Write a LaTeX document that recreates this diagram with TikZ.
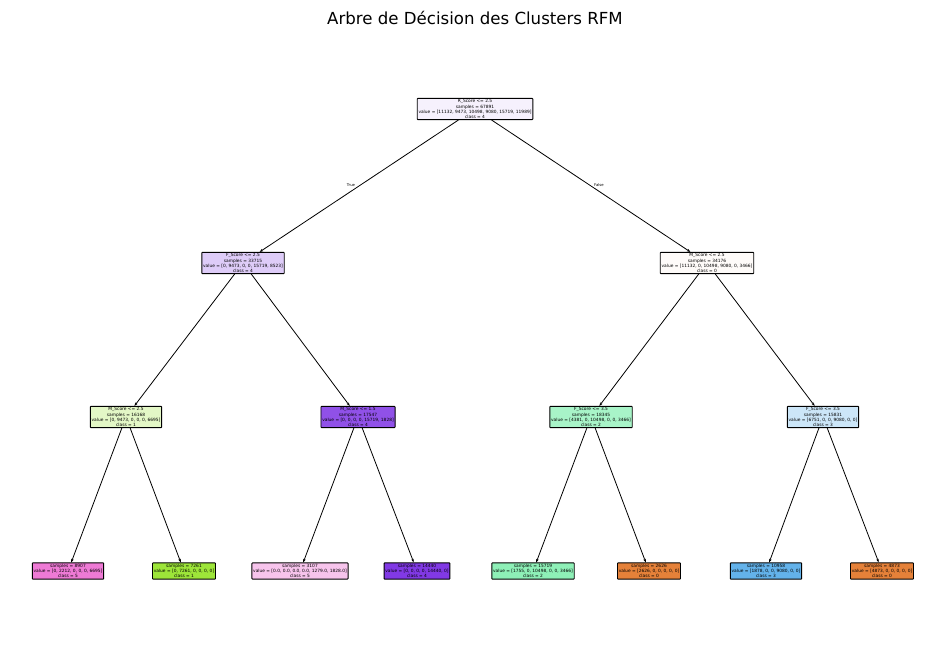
\documentclass[tikz,border=0pt]{standalone}
\usepackage{fontspec}
\setmainfont{DejaVu Sans}
\usetikzlibrary{arrows.meta}
\definecolor{czero}{HTML}{E58139}
\definecolor{cone}{HTML}{9DE539}
\definecolor{ctwo}{HTML}{39E581}
\definecolor{cthree}{HTML}{399DE5}
\definecolor{cfour}{HTML}{8139E5}
\definecolor{cfive}{HTML}{E539C0}
\tikzset{
  tnode/.style={draw=black, rounded corners=0.6pt, line width=0.9pt, align=center,
    inner sep=1.3pt, font=\fontsize{4.35}{5.1}\selectfont},
  tedge/.style={-{Stealth[length=3.6pt,width=2.6pt]}, line width=0.8pt},
  elabel/.style={font=\fontsize{3.8}{4.5}\selectfont}
}
\begin{document}
\begin{tikzpicture}[x=1pt,y=-1pt]
\fill[white] (0,0) rectangle (950,658);
\useasboundingbox (0,0) rectangle (950,658);
\node[font=\fontsize{16.6}{20}\selectfont] (title) at (475,18) {Arbre de Décision des Clusters RFM};

\node[tnode, fill=cfour!7] (root) at (475,109) {R\_Score <= 2.5\\samples = 67891\\value = [11132, 9473, 10498, 9080, 15719, 11989]\\class = 4};
\node[tnode, fill=cfour!26] (l) at (243,263) {F\_Score <= 2.5\\samples = 33715\\value = [0, 9473, 0, 0, 15719, 8523]\\class = 4};
\node[tnode, fill=czero!3] (r) at (707,263) {M\_Score <= 2.5\\samples = 34176\\value = [11132, 0, 10498, 9080, 0, 3466]\\class = 0};

\node[tnode, fill=cone!29] (ll) at (126,417) {M\_Score <= 2.5\\samples = 16168\\value = [0, 9473, 0, 0, 0, 6695]\\class = 1};
\node[tnode, fill=cfour!88] (lr) at (358,417) {M\_Score <= 1.5\\samples = 17547\\value = [0, 0, 0, 0, 15719, 1828]\\class = 4};
\node[tnode, fill=ctwo!44] (rl) at (591,417) {F\_Score <= 3.5\\samples = 18345\\value = [4381, 0, 10498, 0, 0, 3466]\\class = 2};
\node[tnode, fill=cthree!26] (rr) at (823,417) {F\_Score <= 3.5\\samples = 15831\\value = [6751, 0, 0, 9080, 0, 0]\\class = 3};

\node[tnode, fill=cfive!67] (lll) at (68,571) {samples = 8907\\value = [0, 2212, 0, 0, 0, 6695]\\class = 5};
\node[tnode, fill=cone] (llr) at (184,571) {samples = 7261\\value = [0, 7261, 0, 0, 0, 0]\\class = 1};
\node[tnode, fill=cfive!30] (lrl) at (300,571) {samples = 3107\\value = [0.0, 0.0, 0.0, 0.0, 1279.0, 1828.0]\\class = 5};
\node[tnode, fill=cfour] (lrr) at (417,571) {samples = 14440\\value = [0, 0, 0, 0, 14440, 0]\\class = 4};
\node[tnode, fill=ctwo!57] (rll) at (533,571) {samples = 15719\\value = [1755, 0, 10498, 0, 0, 3466]\\class = 2};
\node[tnode, fill=czero] (rlr) at (649,571) {samples = 2626\\value = [2626, 0, 0, 0, 0, 0]\\class = 0};
\node[tnode, fill=cthree!79] (rrl) at (766,571) {samples = 10958\\value = [1878, 0, 0, 9080, 0, 0]\\class = 3};
\node[tnode, fill=czero] (rrr) at (882,571) {samples = 4873\\value = [4873, 0, 0, 0, 0, 0]\\class = 0};

\draw[tedge] (root) -- (l);
\draw[tedge] (root) -- (r);
\draw[tedge] (l) -- (ll);
\draw[tedge] (l) -- (lr);
\draw[tedge] (r) -- (rl);
\draw[tedge] (r) -- (rr);
\draw[tedge] (ll) -- (lll);
\draw[tedge] (ll) -- (llr);
\draw[tedge] (lr) -- (lrl);
\draw[tedge] (lr) -- (lrr);
\draw[tedge] (rl) -- (rll);
\draw[tedge] (rl) -- (rlr);
\draw[tedge] (rr) -- (rrl);
\draw[tedge] (rr) -- (rrr);

\node[elabel] (ltrue) at (351,185) {True};
\node[elabel] (lfalse) at (599,185) {False};
\end{tikzpicture}
\end{document}
